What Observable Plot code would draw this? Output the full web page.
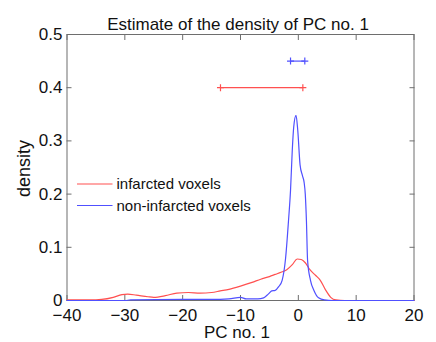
<!DOCTYPE html>
<html>
<head>
<meta charset="utf-8">
<script src="https://cdn.jsdelivr.net/npm/d3@7"></script>
<script src="https://cdn.jsdelivr.net/npm/@observablehq/plot@0.6"></script>
<style>
  html, body { margin: 0; padding: 0; background: #fff; }
  #chart { position: relative; width: 436px; height: 342px; }
</style>
</head>
<body>
<div id="chart"></div>
<script>
// ---- data ----
const titleText = "Estimate of the density of PC no. 1";
const xLabel = "PC no. 1";
const yLabel = "density";
const seriesNames = ["infarcted voxels", "non-infarcted voxels"];
const seriesColors = ["#ff5050", "#5050ff"];

const xTicks = [-40, -30, -20, -10, 0, 10, 20];
const yTicks = [0, 0.1, 0.2, 0.3, 0.4, 0.5];

const infarctedX = [-40, -36, -34, -32, -30.5, -29.5, -28, -26, -25, -23, -21, -19, -17, -15, -13.5, -12, -10, -8, -6.5, -5, -4, -3, -2, -1, -0.2, 0.5, 1.2, 2, 3, 3.8, 4.7, 5.6, 6.5, 8, 20];
const infarctedY = [0.001, 0.001, 0.002, 0.006, 0.011, 0.012, 0.010, 0.007, 0.006, 0.009, 0.014, 0.015, 0.014, 0.015, 0.018, 0.021, 0.027, 0.034, 0.040, 0.045, 0.049, 0.053, 0.058, 0.068, 0.078, 0.077, 0.071, 0.058, 0.047, 0.038, 0.020, 0.006, 0.001, 0, 0];

const nonInfarctedX = [-40, -30, -29, -20, -15, -12, -10, -9, -7, -6, -5.2, -4.6, -4.0, -3.4, -2.8, -2.2, -1.7, -1.35, -1.05, -0.8, -0.4, -0.1, 0.3, 0.7, 1.0, 1.2, 1.4, 1.6, 2.1, 2.7, 3.5, 4.5, 6, 20];
const nonInfarctedY = [0, 0, 0.001, 0.002, 0.002, 0.003, 0.006, 0.003, 0.003, 0.005, 0.012, 0.018, 0.019, 0.026, 0.038, 0.080, 0.150, 0.207, 0.282, 0.326, 0.348, 0.320, 0.255, 0.235, 0.222, 0.200, 0.150, 0.075, 0.038, 0.019, 0.005, 0.001, 0, 0];

// interval bars (start, end, level)
const intervalStart = [-13.46, -1.35];
const intervalEnd = [0.78, 1.12];
const intervalLevel = [0.4, 0.45];

// ---- build tables ----
const curves = [
  ...infarctedX.map((x, i) => ({x, y: infarctedY[i], s: seriesNames[0]})),
  ...nonInfarctedX.map((x, i) => ({x, y: nonInfarctedY[i], s: seriesNames[1]}))
];
const intervals = intervalStart.map((a, i) => ({x1: a, x2: intervalEnd[i], y: intervalLevel[i], s: seriesNames[i]}));
const intervalEnds = intervals.flatMap(d => [{x: d.x1, y: d.y, s: d.s}, {x: d.x2, y: d.y, s: d.s}]);

const plusSymbol = {
  draw(ctx, size) {
    const r = Math.sqrt(size / Math.PI);
    ctx.moveTo(-r, 0); ctx.lineTo(r, 0);
    ctx.moveTo(0, -r); ctx.lineTo(0, r);
  }
};

const frameColor = "#6e6e6e";
const blank = () => "";

const chart = Plot.plot({
  width: 436,
  height: 342,
  marginLeft: 66.5,
  marginRight: 22.5,
  marginTop: 34,
  marginBottom: 42,
  style: { fontFamily: "'Liberation Sans', Arial, sans-serif", fontSize: "17px", color: "#111", background: "#fff" },
  x: { domain: [-40, 20], label: null },
  y: { domain: [0, 0.5], label: null },
  color: { domain: seriesNames, range: seriesColors },
  marks: [
    Plot.frame({ stroke: frameColor }),
    // labels
    Plot.axisX({ anchor: "bottom", ticks: xTicks, tickSize: 0, tickPadding: 8, label: null, fontSize: 17 }),
    Plot.axisY({ anchor: "left", ticks: yTicks, tickSize: 0, tickPadding: 4.5, label: null, fontSize: 17,
      tickFormat: d => d === 0 ? "0" : d3.format(".1f")(d) }),
    // inward ticks on all four sides
    Plot.axisX({ anchor: "bottom", ticks: xTicks, tickSize: 5, dy: -5, tickFormat: blank, label: null, stroke: frameColor }),
    Plot.axisX({ anchor: "top", ticks: xTicks, tickSize: 5, dy: 5, tickFormat: blank, label: null, stroke: frameColor }),
    Plot.axisY({ anchor: "left", ticks: yTicks, tickSize: 5, dx: 5, tickFormat: blank, label: null, stroke: frameColor }),
    Plot.axisY({ anchor: "right", ticks: yTicks, tickSize: 5, dx: -5, tickFormat: blank, label: null, stroke: frameColor }),
    // density curves
    Plot.line(curves, { x: "x", y: "y", z: "s", stroke: "s", strokeWidth: 1.2, curve: "monotone-x" }),
    // interval bars
    Plot.ruleY(intervals, { x1: "x1", x2: "x2", y: "y", stroke: "s", strokeWidth: 1.2 }),
    Plot.dot(intervalEnds, { x: "x", y: "y", stroke: "s", symbol: plusSymbol, r: 3.5, strokeWidth: 1.2 }),
    // title and axis labels
    Plot.text([titleText], { text: d => d, frameAnchor: "top", textAnchor: "middle", dx: -2.5, dy: -16.5, fontSize: 17, fill: "#111" }),
    Plot.text([xLabel], { text: d => d, frameAnchor: "bottom", textAnchor: "middle", dx: -3.5, dy: 37.5, fontSize: 17, fill: "#111" }),
    Plot.text([yLabel], { text: d => d, frameAnchor: "left", textAnchor: "middle", rotate: -90, dx: -43, dy: 1, fontSize: 18, fill: "#111" })
  ]
});

// legend (inside the axes, top-left area, no box)
const svg = d3.select(chart);
const legend = svg.append("g").attr("font-size", 15).attr("fill", "#111").attr("text-anchor", "start");
seriesNames.forEach((name, i) => {
  const y = 184 + i * 21.5;
  legend.append("line").attr("x1", 77).attr("x2", 112.5).attr("y1", y).attr("y2", y)
    .attr("stroke", seriesColors[i]).attr("stroke-width", 1.2);
  legend.append("text").attr("x", 116.5).attr("y", y).attr("dy", "0.34em").attr("text-anchor", "start").text(name);
});

document.getElementById("chart").appendChild(chart);
</script>
</body>
</html>
